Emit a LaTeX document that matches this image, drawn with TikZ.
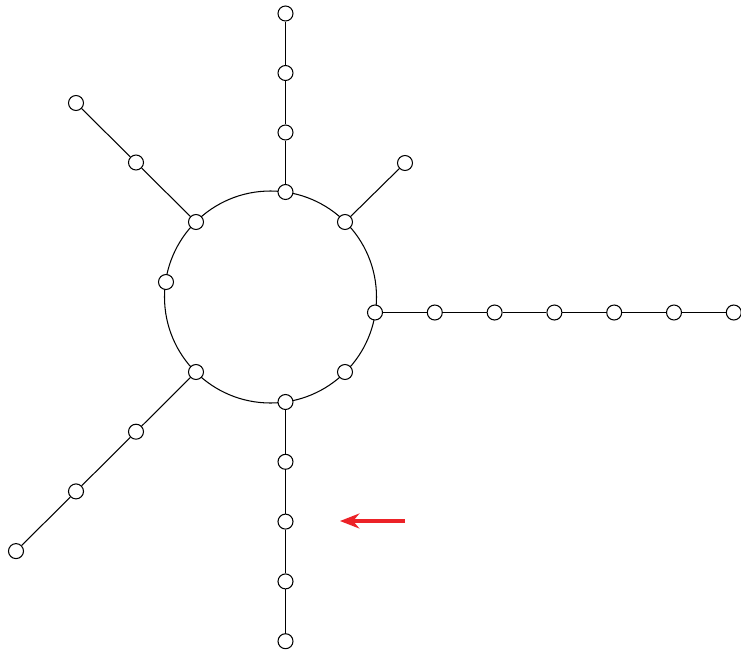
\documentclass[tikz,border=0pt]{standalone}
\usepackage{xcolor}
\usepackage{tikz}
\usetikzlibrary{arrows.meta, positioning, calc}
\definecolor{pointerred}{HTML}{EC2227}

\tikzset{
    vertex/.style={circle, draw, fill=white, inner sep=0pt, minimum size=0.3cm, line width=0.6pt},
    edge/.style={line width=0.6pt}
}

\begin{document}
\begin{tikzpicture}[x=0.02cm, y=-0.02cm, >=Stealth]
    \useasboundingbox (0, 0) rectangle (741, 650);

    % ── RING ──────────────────────────────────────────────────────────
    \coordinate (o) at (270.5, 297);
    \draw[edge] (o) circle (106);
    \foreach \p [count=\i] in {(285.5,192), (345,222), (375,312.5), (345,372),
                               (285.5,402), (196,372), (166,282), (196,222)}{
        \node[vertex] (c\i) at \p {};
    }

    % ── ARMS ──────────────────────────────────────────────────────────
    % up
    \foreach \k in {1,...,3}{
        \pgfmathsetmacro{\py}{192-59.5*\k}
        \node[vertex] (t\k) at (285.5, \py) {};
    }
    \draw[edge] (c1) -- (t1) -- (t2) -- (t3);

    % up right
    \node[vertex] (ur1) at (405, 163) {};
    \draw[edge] (c2) -- (ur1);

    % right
    \foreach \k in {1,...,6}{
        \pgfmathsetmacro{\px}{375+59.8*\k}
        \node[vertex] (r\k) at (\px, 312.5) {};
    }
    \draw[edge] (c3) -- (r1) -- (r2) -- (r3) -- (r4) -- (r5) -- (r6);

    % down
    \foreach \k in {1,...,4}{
        \pgfmathsetmacro{\py}{402+59.8*\k}
        \node[vertex] (b\k) at (285.5, \py) {};
    }
    \draw[edge] (c5) -- (b1) -- (b2) -- (b3) -- (b4);

    % down left
    \foreach \k in {1,...,3}{
        \pgfmathsetmacro{\px}{196-60*\k}
        \pgfmathsetmacro{\py}{372+59.7*\k}
        \node[vertex] (dl\k) at (\px, \py) {};
    }
    \draw[edge] (c6) -- (dl1) -- (dl2) -- (dl3);

    % up left
    \foreach \k in {1,2}{
        \pgfmathsetmacro{\px}{196-60*\k}
        \pgfmathsetmacro{\py}{222-59.5*\k}
        \node[vertex] (ul\k) at (\px, \py) {};
    }
    \draw[edge] (c8) -- (ul1) -- (ul2);

    % ── POINTER ───────────────────────────────────────────────────────
    \coordinate (tail) at (405, 521);
    \coordinate (tip) at (340, 521);
    \draw[-{Stealth[length=11pt, width=8.5pt]}, line width=2pt, pointerred] (tail) -- (tip);
\end{tikzpicture}
\end{document}
